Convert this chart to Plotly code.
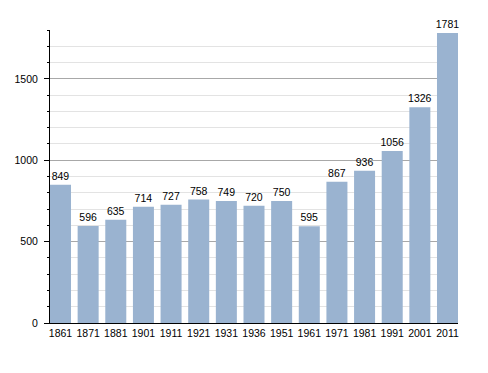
import plotly.graph_objects as go

years = ["1861", "1871", "1881", "1901", "1911", "1921", "1931", "1936",
         "1951", "1961", "1971", "1981", "1991", "2001", "2011"]
population = [849, 596, 635, 714, 727, 758, 749, 720, 750, 595, 867, 936, 1056, 1326, 1781]

fig = go.Figure(go.Bar(
    x=years, y=population,
    marker=dict(color="#9ab3d0", line=dict(width=0)),
    text=[str(v) for v in population],
    textposition="outside",
    textfont=dict(family="Liberation Sans, Arial, sans-serif", size=10.5, color="#000"),
    cliponaxis=False,
    hoverinfo="skip",
))

fig.update_layout(
    width=488, height=373,
    margin=dict(l=50, r=30, t=30, b=50),
    paper_bgcolor="white", plot_bgcolor="white",
    bargap=0.24,
    showlegend=False,
    uniformtext=dict(minsize=10.5, mode="show"),
    font=dict(family="Liberation Sans, Arial, sans-serif", size=10.5, color="#000"),
    xaxis=dict(
        type="category", range=[-0.38, 14.38],
        showline=True, linecolor="#000", linewidth=1,
        ticks="", showgrid=False, tickfont=dict(size=10.5),
    ),
    yaxis=dict(
        range=[0, 1800], dtick=500, tick0=0,
        showline=True, linecolor="#000", linewidth=1,
        ticks="outside", ticklen=5, tickcolor="#000",
        ticklabelstandoff=4,
        showgrid=True, gridcolor="#a8a8a8", gridwidth=1,
        zeroline=False,
        minor=dict(dtick=100, showgrid=True, gridcolor="#e3e3e3",
                   ticks="outside", ticklen=2, tickcolor="#000"),
        tickfont=dict(size=10.5),
    ),
)

fig.write_html("out.html", config={"displayModeBar": False},
               post_script="document.body.style.margin='0';")
